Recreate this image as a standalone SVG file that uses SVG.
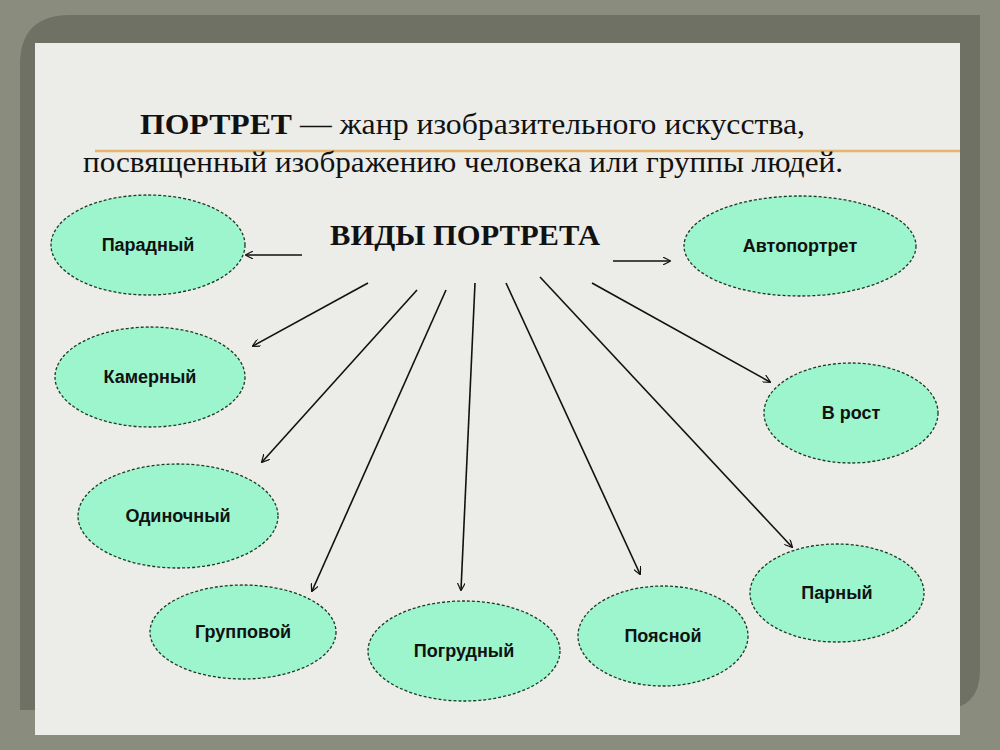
<svg xmlns="http://www.w3.org/2000/svg" width="1000" height="750" viewBox="0 0 1000 750">
<defs>
<style>
.n ellipse{fill:#9cf5cc;stroke:#1d3a22;stroke-width:1.3;stroke-dasharray:3 2}
.n text{font-family:"Liberation Sans",Arial,sans-serif;font-weight:bold;font-size:18px;fill:#111;text-anchor:middle}
.c line{stroke:#111;stroke-width:1.6;marker-end:url(#a)}
.t{font-family:"Liberation Serif","Times New Roman",serif;font-size:30px;fill:#111}
</style>
<marker id="a" viewBox="0 0 10 10" refX="9" refY="5" markerWidth="8" markerHeight="8" orient="auto" markerUnits="userSpaceOnUse"><path d="M0,0 L10,5 L0,10" fill="none" stroke="#111" stroke-width="1.5"/></marker>
</defs>
<rect width="1000" height="750" fill="#8a8c7d"/>
<path d="M70,15 H980 V670 Q980,710 940,710 H20 V65 Q20,15 70,15 Z" fill="#6f7164"/>
<rect x="35" y="43" width="925" height="692" fill="#ecece9"/>
<line x1="95" y1="151" x2="960" y2="151" stroke="#e8b46a" stroke-width="2.5"/>
<text class="t" x="140" y="134" textLength="665" lengthAdjust="spacingAndGlyphs"><tspan font-weight="bold">ПОРТРЕТ</tspan> — жанр изобразительного искусства,</text>
<text class="t" x="83" y="172" textLength="760" lengthAdjust="spacingAndGlyphs">посвященный изображению человека или группы людей.</text>
<text class="t" x="330" y="245" font-weight="bold" textLength="270" lengthAdjust="spacingAndGlyphs">ВИДЫ ПОРТРЕТА</text>
<g class="c">
<line x1="302" y1="255" x2="246" y2="255"/>
<line x1="613" y1="261" x2="670" y2="261"/>
<line x1="368" y1="283" x2="253" y2="346"/>
<line x1="417" y1="290" x2="262" y2="462"/>
<line x1="446" y1="290" x2="312" y2="591"/>
<line x1="475" y1="283" x2="461" y2="590"/>
<line x1="506" y1="283" x2="640" y2="574"/>
<line x1="540" y1="277" x2="792" y2="547"/>
<line x1="592" y1="283" x2="770" y2="382"/>
</g>
<g id="n1" class="n"><ellipse cx="148" cy="245" rx="97" ry="50"/><text x="148" y="251">Парадный</text></g>
<g id="n2" class="n"><ellipse cx="800" cy="246" rx="116" ry="50"/><text x="800" y="252">Автопортрет</text></g>
<g id="n3" class="n"><ellipse cx="150" cy="377" rx="95" ry="50"/><text x="150" y="383">Камерный</text></g>
<g id="n4" class="n"><ellipse cx="851" cy="413" rx="87" ry="50"/><text x="851" y="419">В рост</text></g>
<g id="n5" class="n"><ellipse cx="178" cy="516" rx="100" ry="52"/><text x="178" y="522">Одиночный</text></g>
<g id="n6" class="n"><ellipse cx="243" cy="632" rx="93" ry="47"/><text x="243" y="638">Групповой</text></g>
<g id="n7" class="n"><ellipse cx="464" cy="651" rx="96" ry="50"/><text x="464" y="657">Погрудный</text></g>
<g id="n8" class="n"><ellipse cx="663" cy="636" rx="85" ry="50"/><text x="663" y="642">Поясной</text></g>
<g id="n9" class="n"><ellipse cx="837" cy="593" rx="87" ry="49"/><text x="837" y="599">Парный</text></g>
</svg>
